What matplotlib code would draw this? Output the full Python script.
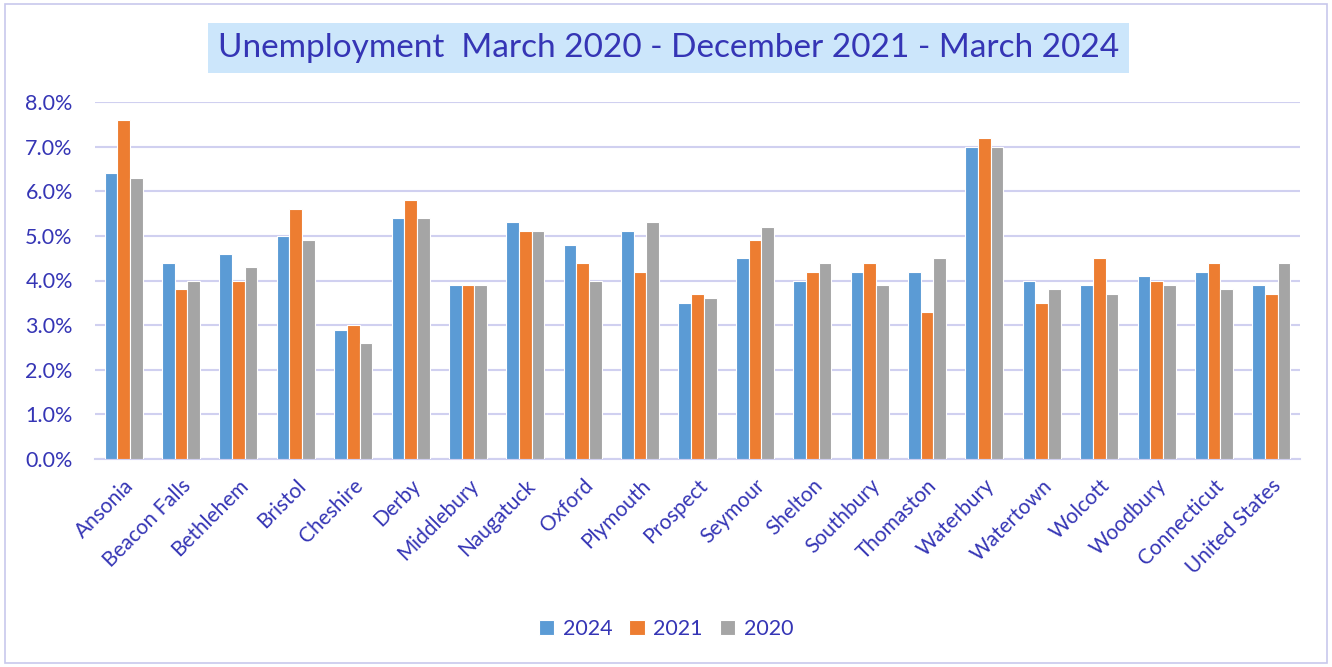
import matplotlib
matplotlib.use("Agg")
import matplotlib.pyplot as plt
import numpy as np
from matplotlib.patches import Rectangle
from matplotlib.ticker import FuncFormatter

categories = ["Ansonia", "Beacon Falls", "Bethlehem", "Bristol", "Cheshire", "Derby",
              "Middlebury", "Naugatuck", "Oxford", "Plymouth", "Prospect", "Seymour",
              "Shelton", "Southbury", "Thomaston", "Waterbury", "Watertown", "Wolcott",
              "Woodbury", "Connecticut", "United States"]
series_names = ["2024", "2021", "2020"]
v2024 = [6.4, 4.4, 4.6, 5.0, 2.9, 5.4, 3.9, 5.3, 4.8, 5.1, 3.5, 4.5, 4.0, 4.2, 4.2, 7.0, 4.0, 3.9, 4.1, 4.2, 3.9]
v2021 = [7.6, 3.8, 4.0, 5.6, 3.0, 5.8, 3.9, 5.1, 4.4, 4.2, 3.7, 4.9, 4.2, 4.4, 3.3, 7.2, 3.5, 4.5, 4.0, 4.4, 3.7]
v2020 = [6.3, 4.0, 4.3, 4.9, 2.6, 5.4, 3.9, 5.1, 4.0, 5.3, 3.6, 5.2, 4.4, 3.9, 4.5, 7.0, 3.8, 3.7, 3.9, 3.8, 4.4]
yticks = [0, 1, 2, 3, 4, 5, 6, 7, 8]
title = "Unemployment  March 2020 - December 2021 - March 2024"

colors = ["#5b9bd5", "#ed7d31", "#a5a5a5"]
text_color = "#3535b5"
grid_color = "#d0d0f0"

plt.rcParams['font.family'] = ['Lato', 'DejaVu Sans']

fig = plt.figure(figsize=(13.32, 6.67), dpi=100)
ax = fig.add_axes([95/1332, 1 - 459/667, (1300-95)/1332, (459-102)/667])

x = np.arange(len(categories))
w = 0.221
for i, (vals, name) in enumerate(zip([v2024, v2021, v2020], series_names)):
    ax.bar(x + (i - 1) * w, vals, width=w, color=colors[i], edgecolor="white",
           linewidth=0.8, label=name, zorder=3)

ax.set_xlim(-0.5, len(categories) - 0.5)
ax.set_ylim(0, 8)
ax.set_yticks(yticks)
ax.yaxis.set_major_formatter(FuncFormatter(lambda v, p: f"{v:.1f}%"))
ax.grid(axis="y", color=grid_color, linewidth=1.5, zorder=0)
for s in ["top", "right", "left"]:
    ax.spines[s].set_visible(False)
ax.spines["bottom"].set_color(grid_color)
ax.spines["bottom"].set_linewidth(1.5)
ax.tick_params(axis="y", length=0, pad=16, labelsize=15.5, labelcolor=text_color)
ax.tick_params(axis="x", length=0, pad=12, labelsize=15, labelcolor=text_color)
ax.set_xticks(x)
ax.set_xticklabels(categories, rotation=45, ha="right", rotation_mode="anchor")

leg = fig.legend(loc="center", bbox_to_anchor=(0.5, 1 - 629/667), ncol=3, frameon=False,
                 fontsize=15.5, handlelength=0.7, handleheight=0.7, columnspacing=0.8,
                 handletextpad=0.4)
for t in leg.get_texts():
    t.set_color(text_color)

fig.text(0.502, 1 - 48/667, title, ha="center", va="center", fontsize=24, color=text_color,
         bbox=dict(boxstyle="square,pad=0.3", facecolor="#cce6fb", edgecolor="none"))

fig.add_artist(Rectangle((5/1332, 4/667), 1322/1332, 659/667, transform=fig.transFigure,
                         fill=False, edgecolor="#c8c8ec", linewidth=1.2))

fig.savefig("out.png", dpi=100)
